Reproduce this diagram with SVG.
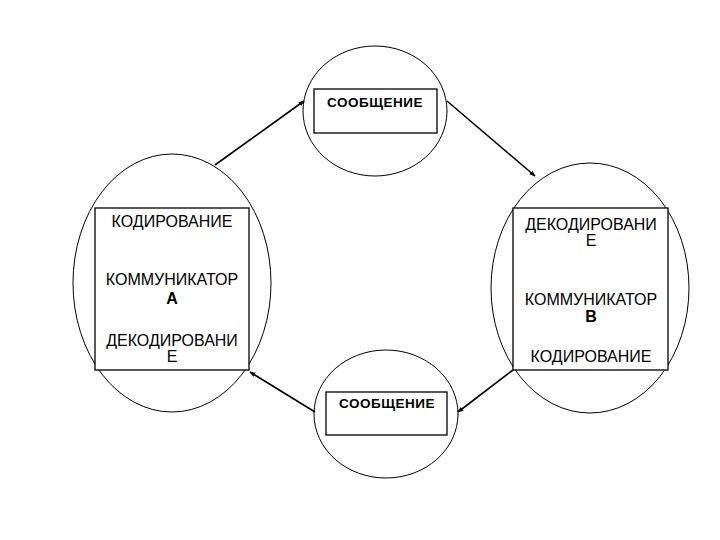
<svg xmlns="http://www.w3.org/2000/svg" width="720" height="540" viewBox="0 0 720 540">
<defs>
<style>
.shape{fill:none;stroke:#000;stroke-width:1}
.box{fill:#fff;stroke:#000;stroke-width:1.3}
.t{font-family:"Liberation Sans",Arial,sans-serif;font-size:16px;text-anchor:middle;fill:#000}
.tb{font-weight:bold}
.b{font-family:"Liberation Sans",Arial,sans-serif;font-size:13.5px;font-weight:bold;text-anchor:middle;fill:#000;letter-spacing:0.5px}
.c{stroke:#000;stroke-width:1.6;fill:none;marker-end:url(#ah)}
</style>
<marker id="ah" viewBox="0 0 10 10" refX="9" refY="5" markerWidth="6" markerHeight="6" orient="auto" markerUnits="userSpaceOnUse">
<path d="M0,1 L10,5 L0,9 Z" fill="#000"/>
</marker>
</defs>
<rect width="720" height="540" fill="#fff"/>
<g id="msg-top">
<ellipse class="shape" cx="375" cy="111" rx="72" ry="65"/>
<rect class="box" x="314" y="89" width="123" height="44"/>
<text class="b" x="375" y="107">СООБЩЕНИЕ</text>
</g>
<g id="comm-a">
<ellipse class="shape" cx="172" cy="283" rx="99" ry="129"/>
<rect class="box" x="95" y="208" width="154" height="162"/>
<text class="t" x="172" y="227">КОДИРОВАНИЕ</text>
<text class="t" x="172" y="285">КОММУНИКАТОР</text>
<text class="t tb" x="172" y="304">А</text>
<text class="t" x="172" y="346">ДЕКОДИРОВАНИ</text>
<text class="t" x="172" y="362">Е</text>
</g>
<g id="comm-b">
<ellipse class="shape" cx="590" cy="288" rx="99" ry="125"/>
<rect class="box" x="513" y="208" width="155" height="162"/>
<text class="t" x="591" y="230">ДЕКОДИРОВАНИ</text>
<text class="t" x="591" y="246">Е</text>
<text class="t" x="591" y="305">КОММУНИКАТОР</text>
<text class="t tb" x="591" y="322">В</text>
<text class="t" x="591" y="362">КОДИРОВАНИЕ</text>
</g>
<g id="msg-bottom">
<ellipse class="shape" cx="386" cy="414" rx="72" ry="64"/>
<rect class="box" x="326" y="392" width="121" height="43"/>
<text class="b" x="387" y="408">СООБЩЕНИЕ</text>
</g>
<g id="connectors">
<line class="c" x1="215" y1="165" x2="304" y2="101"/>
<line class="c" x1="447" y1="101" x2="535" y2="176"/>
<line class="c" x1="513" y1="370" x2="458" y2="412"/>
<line class="c" x1="315" y1="412" x2="250" y2="372"/>
</g>
</svg>
